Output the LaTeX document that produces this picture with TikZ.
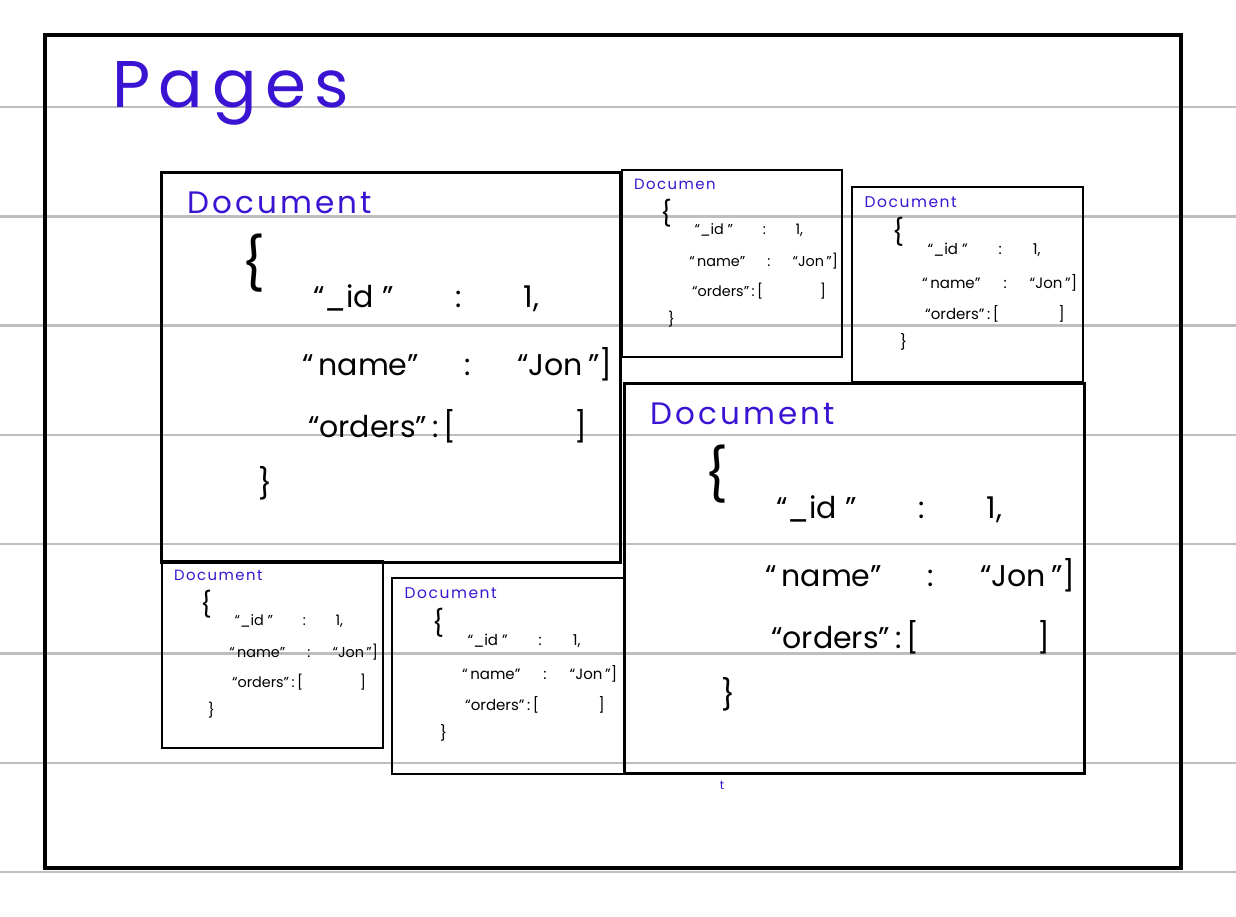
\documentclass[tikz,border=0pt]{standalone}
\usepackage{fontspec}
\setmainfont{Poppins}
\newfontfamily\handfont[LetterSpace=10]{Poppins}
\newfontfamily\bighandfont[LetterSpace=13]{Poppins}
\definecolor{inkblue}{RGB}{58,20,210}
\definecolor{rulegray}{RGB}{190,190,190}
\newcommand{\ruleskip}{109.3}

\tikzset{
  ruleline/.style={rulegray, line width=2.5pt},
  docbox/.style={draw, inner sep=0pt, anchor=north west},
  doctitle/.style={anchor=base west, inner sep=0pt, text=inkblue,
    font=\handfont\fontsize{31}{31}\selectfont},
  jsonline/.style={anchor=base west, inner sep=0pt,
    font=\fontsize{30}{30}\selectfont},
  bracemark/.style={inner sep=0pt},
}

% one json document: name, x, y, width, height, line width, scale, title
\newcommand{\jsondoc}[8]{%
  \node[docbox, line width=#6, minimum width=#4pt, minimum height=#5pt] (#1) at (#2,#3) {};
  \begin{scope}[shift={(#1.north west)}, scale=#7, transform shape]
    \node[doctitle] (#1-title) at (27,42) {#8};
    \node[bracemark, font=\fontsize{52}{52}\selectfont] (#1-open) at (94,92) {\{};
    \node[jsonline] (#1-id) at (153,136) {\hbox to 226pt{“\_id ”\hfil:\hfil 1,}};
    \node[jsonline] (#1-name) at (142,204) {\hbox to 310pt{“\,name”\hfil:\hfil“Jon\,”]}};
    \node[jsonline] (#1-orders) at (148,266) {\hbox to 279pt{“orders”\,:\,[\hfil]}};
    \node[bracemark, font=\fontsize{30}{30}\selectfont] (#1-close) at (105,312) {\}};
  \end{scope}}

\begin{document}
\begin{tikzpicture}[x=1pt, y=-1pt]
\useasboundingbox (0,0) rectangle (1236,916);

  % ruled paper
  \foreach \k in {0,...,7}
    \draw[ruleline] (0,{107+\ruleskip*\k}) -- (1236,{107+\ruleskip*\k});

  % page
  \node[docbox, line width=4pt, minimum width=1136pt, minimum height=833pt] (page) at (43,33) {};
  \node (pages) [anchor=base west, inner sep=0pt, text=inkblue, font=\bighandfont\fontsize{66}{66}\selectfont] at (112,107) {Pages};

  % documents
  \jsondoc{docA}{160}{171}{459}{390}{2.5pt}{1}{Document}
  \jsondoc{docB}{621}{169}{220}{187}{1.5pt}{0.48}{Documen}
  \jsondoc{docC}{851}{186}{231}{195}{1.5pt}{0.5}{Document}
  \jsondoc{docD}{623}{382}{460}{390}{2.5pt}{1}{Document}
  \jsondoc{docE}{161}{560}{221}{187}{1.5pt}{0.48}{Document}
  \jsondoc{docF}{391}{577}{232}{196}{1.5pt}{0.5}{Document}

  \node (stray) [text=inkblue, inner sep=0pt, font=\fontsize{12}{12}\selectfont] at (722,785) {t};

\end{tikzpicture}
\end{document}
